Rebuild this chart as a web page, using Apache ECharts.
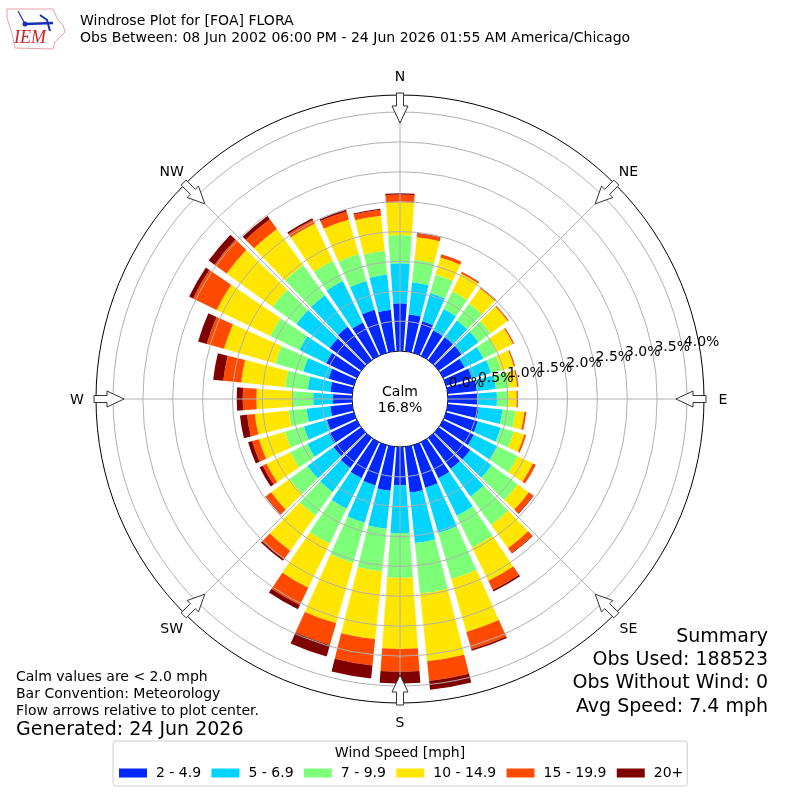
<!DOCTYPE html>
<html>
<head>
<meta charset="utf-8">
<style>html,body{margin:0;padding:0;background:#fff}#main{width:800px;height:800px}</style>
<script src="https://cdn.jsdelivr.net/npm/echarts@6/dist/echarts.min.js"></script>
</head>
<body>
<div id="main"></div>
<script>
// percent of obs per direction, north clockwise
var directions = ['0','10','20','30','40','50','60','70','80','90','100','110','120','130','140','150','160','170','180','190','200','210','220','230','240','250','260','270','280','290','300','310','320','330','340','350'];
var speedNames = ['2 - 4.9','5 - 6.9','7 - 9.9','10 - 14.9','15 - 19.9','20+'];
var speedColors = ['#0028ff','#00d4ff','#7dff7a','#ffe600','#ff4a00','#800000'];
var speed2to5 = [.80,.62,.55,.47,.47,.47,.40,.45,.49,.49,.52,.55,.57,.65,.64,.67,.74,.77,.64,.74,.70,.67,.62,.57,.52,.47,.37,.32,.37,.44,.57,.65,.69,.62,.75,.70];
var speed5to7 = [.67,.54,.49,.40,.35,.35,.35,.33,.32,.33,.40,.40,.44,.44,.57,.70,.79,.85,.80,.64,.65,.57,.50,.54,.40,.40,.40,.33,.38,.44,.50,.69,.65,.77,.50,.59];
var speed7to10 = [.47,.38,.32,.33,.35,.25,.25,.18,.23,.18,.22,.23,.38,.54,.59,.59,.80,.85,.75,.72,.70,.65,.49,.37,.32,.33,.30,.35,.38,.49,.54,.49,.62,.38,.47,.40];
var speed10to15 = [.55,.38,.30,.33,.31,.35,.30,.22,.13,.15,.15,.18,.28,.23,.48,.62,.92,1.14,1.19,1.14,1.05,.82,.72,.38,.44,.45,.57,.60,.74,.89,1.00,.95,.75,.69,.60,.59];
var speed15to20 = [.13,.06,.05,.03,.025,.02,.02,.02,.02,.02,.03,.03,.05,.09,.10,.17,.30,.33,.38,.44,.38,.32,.18,.11,.07,.12,.13,.23,.30,.30,.44,.25,.20,.07,.14,.10];
var speed20up = [.02,.01,.005,.003,.003,.002,.002,.002,.002,.002,.002,.002,.003,.01,.01,.03,.03,.15,.20,.22,.20,.08,.03,.01,.06,.07,.12,.10,.17,.15,.07,.12,.07,.03,.03,.02];
var speedValues = [speed2to5,speed5to7,speed7to10,speed10to15,speed15to20,speed20up];

var ringTicks = [.5,1,1.5,2,2.5,3,3.5,4];
var spokeAngles = [0,45,90,135,180,225,270,315];
var compassLabels = ['N','NE','E','SE','S','SW','W','NW'];
var titleLines = ['Windrose Plot for [FOA] FLORA','Obs Between: 08 Jun 2002 06:00 PM - 24 Jun 2026 01:55 AM America/Chicago'];
var summaryLines = ['Summary','Obs Used: 188523','Obs Without Wind: 0','Avg Speed: 7.4 mph'];
var noteLines = ['Calm values are < 2.0 mph','Bar Convention: Meteorology','Flow arrows relative to plot center.'];

var font = '"DejaVu Sans"';
var cx = 400, cy = 399;
var rMax = 4.285;
var gridStyle = {stroke:'#b0b0b0',lineWidth:1,fill:'none'};

function txt(x,y,s,size,align){
	return {type:'text',z:30,x:x,y:y+1.5,style:{text:s,font:size+'px '+font,fill:'#000',textAlign:align||'left',textVerticalAlign:'middle'}};
}

var elements = [];
// header
elements.push(txt(80,20,titleLines[0],14.05));
elements.push(txt(80,37,titleLines[1],14.05));
// summary
[636,659,682,706].forEach(function(y,i){ elements.push(txt(768,y,summaryLines[i],19,'right')); });
// notes
[676,693,710].forEach(function(y,i){ elements.push(txt(16,y,noteLines[i],14)); });
elements.push(txt(16,729,'Generated: 24 Jun 2026',19));
// calm
elements.push(txt(400,391,'Calm',14,'center'));
elements.push(txt(400,407,'16.8%',14,'center'));
// legend title
elements.push(txt(400,752,'Wind Speed [mph]',14,'center'));

// compass arrows, pointing at the centre
compassLabels.forEach(function(name,i){
	var a = i*Math.PI/4, s = Math.sin(a), c = Math.cos(a);
	elements.push(txt(cx+323*s,cy-323*c,name,14,'center'));
	var pts = [[-3.5,-306],[3.5,-306],[3.5,-293],[8,-293],[0,-276],[-8,-293],[-3.5,-293]].map(function(p){
		return [cx+p[0]*c-p[1]*s, cy+p[0]*s+p[1]*c];
	});
	elements.push({type:'polygon',z:20,shape:{points:pts},style:{fill:'#fff',stroke:'#333',lineWidth:1}});
});

// logo
elements.push({type:'polygon',z:20,shape:{points:[[7,9],[53,9],[58,20],[63,25],[65,32],[60,37],[55,42],[53,49],[15,48],[12,33],[7,18]]},style:{fill:'#fff',stroke:'#e8a0a8',lineWidth:1}});
elements.push({type:'polyline',z:21,shape:{points:[[25,24],[53,23]]},style:{stroke:'#1a2fb0',lineWidth:2.5,fill:'none'}});
elements.push({type:'polyline',z:21,shape:{points:[[18,11],[25,24]]},style:{stroke:'#1a2fb0',lineWidth:1.2,fill:'none'}});
elements.push({type:'polyline',z:21,shape:{points:[[40,15],[47,20],[50,31]]},style:{stroke:'#1a2fb0',lineWidth:2,fill:'none'}});
elements.push({type:'circle',z:21,shape:{cx:25,cy:24,r:2.5},style:{fill:'#1a2fb0'}});
elements.push({type:'text',z:21,x:30,y:38,style:{text:'IEM',font:'italic 18px "Liberation Serif"',fill:'#d0202a',textAlign:'center',textVerticalAlign:'middle'}});

var series = speedNames.map(function(name,i){
	return {
		name:name,
		type:'bar',
		coordinateSystem:'polar',
		polarIndex:0,
		stack:'rose',
		barCategoryGap:'18%',
		itemStyle:{color:speedColors[i]},
		data:speedValues[i]
	};
});
// grid goes over the bars like in matplotlib
series.push({
	type:'custom',
	coordinateSystem:'polar',
	polarIndex:1,
	z:5,
	silent:true,
	clip:false,
	encode:{radius:0,angle:1},
	data:ringTicks.map(function(v){ return [v,0]; }),
	renderItem:function(params,api){
		var p = api.coord([api.value(0),0]);
		return {type:'circle',shape:{cx:cx,cy:cy,r:Math.sqrt((p[0]-cx)*(p[0]-cx)+(p[1]-cy)*(p[1]-cy))},style:gridStyle};
	}
});
series.push({
	type:'custom',
	coordinateSystem:'polar',
	polarIndex:1,
	z:5,
	silent:true,
	clip:false,
	encode:{radius:0,angle:1},
	data:spokeAngles.map(function(a){ return [rMax,a]; }),
	renderItem:function(params,api){
		var p0 = api.coord([0,api.value(1)]), p1 = api.coord([rMax,api.value(1)]);
		return {type:'line',shape:{x1:p0[0],y1:p0[1],x2:p1[0],y2:p1[1]},style:gridStyle};
	}
});

function hiddenAngle(index,start){
	return {polarIndex:index,type:'value',min:0,max:360,startAngle:start,axisLine:{show:false},axisTick:{show:false},axisLabel:{show:false},splitLine:{show:false}};
}
// two label axes, echarts drops the second tick label when it overlaps the first
function labelRadius(index,interval,keep){
	return {polarIndex:index,type:'value',min:0,max:rMax,interval:interval,z:6,axisLine:{show:false},axisTick:{show:false},splitLine:{show:false},
		axisLabel:{show:true,showMinLabel:keep,margin:0,rotate:0,align:'center',verticalAlign:'middle',color:'#000',fontSize:14,fontFamily:font,hideOverlap:false,
			formatter:keep
				? function(v){ return v>4.01 ? '' : v.toFixed(1)+'%'; }
				: function(v){ return (v>4.01 || v%1===0) ? '' : v.toFixed(1)+'%'; }}};
}

var myChart = echarts.init(document.getElementById('main'));
myChart.setOption({
	animation:false,
	textStyle:{fontFamily:font},
	polar:[
		{center:[cx,cy],radius:[48,304]},
		{center:[cx,cy],radius:[48,304]},
		{center:[cx+19,cy-7],radius:[48,304]},
		{center:[cx+19,cy-7],radius:[48,304]}
	],
	angleAxis:[
		{polarIndex:0,type:'category',data:directions,startAngle:95,axisLine:{show:false},axisTick:{show:false},axisLabel:{show:false},splitLine:{show:false}},
		{polarIndex:1,type:'value',min:0,max:360,interval:45,startAngle:90,axisLine:{show:true,lineStyle:{color:'#000',width:1}},axisTick:{show:false},axisLabel:{show:false},splitLine:{show:false}},
		hiddenAngle(2,10),
		hiddenAngle(3,10)
	],
	radiusAxis:[
		{polarIndex:0,type:'value',min:0,max:rMax,axisLine:{show:false},axisTick:{show:false},axisLabel:{show:false},splitLine:{show:false}},
		{polarIndex:1,type:'value',min:0,max:rMax,interval:.5,axisLine:{show:false},axisTick:{show:false},axisLabel:{show:false},splitLine:{show:false}},
		labelRadius(2,1,true),
		labelRadius(3,.5,false)
	],
	legend:{
		left:113,top:741,
		padding:[25,4,6,6],
		itemWidth:28,itemHeight:9,itemGap:10.3,
		icon:'rect',
		borderColor:'#ccc',borderWidth:1,borderRadius:3,
		selectedMode:false,
		textStyle:{color:'#000',fontSize:14,fontFamily:font,padding:[0,0,0,4]},
		data:speedNames
	},
	series:series,
	graphic:{elements:elements}
});
</script>
</body>
</html>
